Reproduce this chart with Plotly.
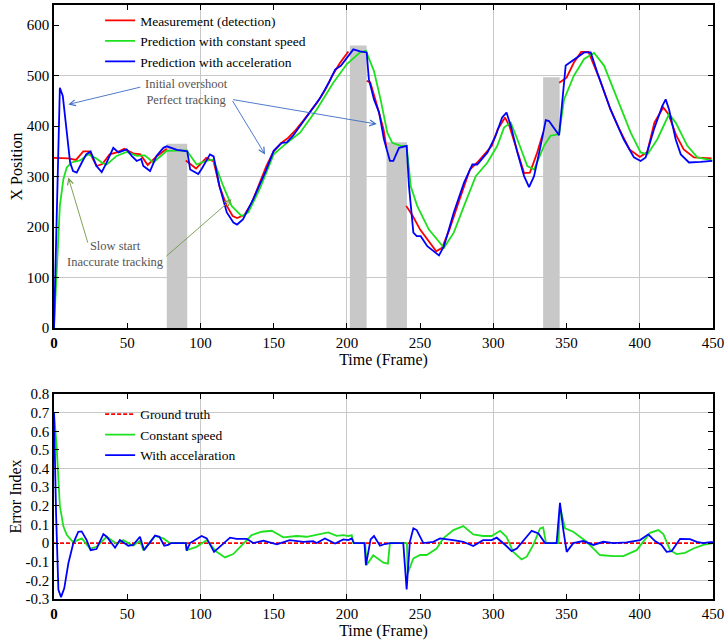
import plotly.graph_objects as go

# ---------------- data: top panel (X position) ----------------
meas_frames = [0, 5, 10, 15, 20, 24, 29, 33, 38, 43, 48, 54, 59, 64, 70, 77, None,
               90, 97, 104, 109, 113, 118, 122, 125, 130, 135, 140, 145, 150, 155, 160, 165, 170,
               175, 180, 185, 190, 195, 198, 201, None,
               213.5, 216, 220, 225, 227, None,
               240.5, 245, 250, 257, 261, 265, 270, 277, 284, 289, 293, 299, 303, 308, 311, 316,
               321, 325, 330, 334, None,
               345, 350, 355, 360, 365, 368, 373, 380, 386, 393, 400, 405, 410, 416, 419.5, 425,
               430, 437, 449]
meas_x = [337, 337, 336, 333, 350, 350, 321, 325, 344, 348, 355, 346, 344, 323, 340, 355, None,
          332, 316, 337, 330, 281, 242, 222, 218, 224, 248, 284, 321, 350, 366, 377, 392, 410,
          430, 448, 471, 500, 524, 535, 548, None,
          490, 486, 447, 394, 357, None,
          242, 222, 195, 169, 152, 159, 195, 255, 314, 328, 341, 361, 394, 417, 400, 354,
          307, 308, 348, 387, None,
          486, 496, 526, 547, 547, 526, 490, 433, 394, 354, 339, 348, 407, 437, 424, 381,
          354, 338, 336]

const_frames = [0, 1.8, 4, 6.4, 8.7, 12, 17.8, 23.4, 29, 33, 36, 42.8, 49.6, 56.5, 62, 67.8, 77,
                90.6, 97.4, 104, 108.8, 115.6, 121.3, 128, 132.7, 140.7, 150, 156.6, 168, 179.4,
                190.7, 200, 209, 213, 218.5, 223, 227.6, 231, 236.7, 240.8, 243.6, 248, 256,
                266.3, 273, 280, 288, 296, 302.7, 307.3, 311.9, 316.4, 323.2, 327.8, 334.6, 339,
                344.9, 348.3, 355, 362, 368.8, 375.6, 384.7, 393.8, 400.6, 405.2, 412, 420,
                424.5, 432.5, 439.3, 449.5]
const_x = [0, 123, 242, 295, 318, 328, 332, 344, 336, 327, 324, 341, 349, 341, 342, 328, 351,
           352, 324, 331, 334, 281, 242, 222, 229, 277, 344, 361, 387, 433,
           486, 523, 546, 549, 509, 453, 387, 367, 361, 361, 281, 242, 195,
           159, 189, 242, 301, 328, 361, 397, 407, 374, 321, 314, 361, 381,
           384, 453, 500, 533, 545, 520, 453, 387, 348, 344, 374, 424,
           407, 361, 338, 332]

acc_frames = [0, 4, 6, 8.7, 11, 13, 15.5, 19, 22, 25, 29, 32.6, 36, 40.5, 44, 49.6, 53, 56.5,
              59.5, 61, 65.6, 70, 74.7, 77, 84, 91, 93, 98.5, 101, 106.5, 109, 113, 118, 122.5,
              125, 129, 136, 145, 150, 155.5, 159, 163, 168, 175, 181.6, 188, 192, 196, 200,
              204.4, 209, 213.5, 215, 218.5, 222, 225.3, 229.4, 231.7, 235.6, 240.8, 242.4,
              245.4, 247.7, 250.4, 254.9, 262.9, 266.3, 273, 280, 285.7, 289, 296, 301.6, 306,
              309, 312, 316.4, 321, 324.4, 327.8, 332.3, 335.8, 338, 342.6, 344.9, 349.4, 354,
              362, 366.5, 371, 380, 389, 396, 400.6, 404, 409.7, 415.4, 417.7, 420, 424.5, 428,
              433.6, 441.6, 449.5]
acc_x = [0, 476, 460, 388, 328, 311, 308, 328, 344, 350, 321, 309, 328, 357, 348, 354, 341, 331,
         335, 321, 311, 341, 357, 360, 353, 350, 314, 305, 316, 344, 340, 281, 229, 209,
         205, 215, 255, 314, 351, 367, 368, 380, 400, 427, 455, 488, 512, 520, 536,
         552, 548, 546, 493, 453, 427, 374, 331, 331, 357, 361, 281,
         189, 182, 182, 162, 144, 162, 229, 288, 324, 324, 348, 381, 417,
         427, 400, 348, 301, 279, 301, 361, 412, 410, 390, 382, 520, 529,
         546, 546, 506, 433, 374, 338, 331, 338, 394, 440, 453, 433, 374, 344,
         328, 329, 331]

# occlusion periods (grey bars)
occl_start = [77, 202, 227, 334]
occl_end = [91, 213.5, 241, 345.3]
occl_height = [365, 560, 368, 497]

# ---------------- data: bottom panel (error index) ----------------
gt_frames = [0, 450]
gt_err = [0, 0]

const_err_frames = [0, 1.8, 4, 6.4, 8.7, 13, 19, 24.6, 29, 36, 42.8, 47.3, 54, 58.7, 61, 69, 74.7,
                    79, 90, 90.6, 97.4, 104.3, 111, 116.8, 122.4, 129.3, 135, 141.8, 148.7, 156.6,
                    165.7, 172.6, 179.4, 187.3, 193, 197.6, 201, 203.3, 204.4, 212.5, 213.5, 218,
                    225, 228, 229.4, 241, 241.5, 245.4, 250, 254.5, 261.3, 265.8, 272.7, 279.5,
                    286.3, 293, 298.9, 304.6, 309, 313.6, 319.3, 322.8, 327.3, 331.9, 334, 336,
                    344.5, 345.5, 349, 354.6, 363.7, 372.8, 381.9, 388.8, 397.9, 402.4, 407, 412.7,
                    416.1, 420.7, 425.2, 430.9, 436.6, 443.4, 450]
const_err = [0.70, 0.52, 0.20, 0.09, 0.045, 0.005, 0.025, -0.03, -0.02, 0.034, -0.005, 0.016,
             -0.014, 0.013, -0.038, 0.038, 0.025,
             0, 0, -0.038, -0.02, 0.016, -0.047, -0.077, -0.059, 0, 0.043, 0.061, 0.066, 0.031,
             0.038, 0.034, 0.043, 0.057, 0.039, 0.043, 0.038, 0.043, 0, 0, -0.118, -0.065,
             -0.105, -0.11, 0, 0, -0.163, -0.082, -0.064, -0.064, -0.029, 0.025, 0.07, 0.091,
             0.047, 0.038, 0.038, 0.066, 0.034, -0.047, -0.088, -0.073, -0.01, 0.079, 0.084, 0,
             0, 0.195, 0.079, 0.061, 0.007, -0.064, -0.07, -0.07, -0.038, 0.007, 0.055, 0.07,
             0.048, -0.038, -0.059, -0.052, -0.029, -0.01, 0]

acc_err_frames = [0, 1.4, 3, 4.8, 7, 9.8, 13.2, 16.6, 18.9, 22.3, 25, 29, 33.7, 36, 41.7, 45,
                  50.7, 54, 58.7, 61.5, 69, 72, 75.3, 78, 80, 90, 90.6, 92.9, 100.8, 104.3, 109.3,
                  114.5, 120.2, 124.7, 131.6, 136.1, 143, 152.1, 161, 170.2, 177, 179.4, 185,
                  191.9, 197.6, 201, 203.3, 204.9, 212, 213, 216.2, 218.5, 222.6, 226, 229.4,
                  238.5, 240.8, 243, 245.4, 247.7, 252.2, 259, 263.6, 272.7, 279.5, 286.3, 293,
                  298.9, 302.3, 308, 312.5, 316, 322.8, 326.2, 330.8, 335.3, 343.2, 345.5, 347.8,
                  350.1, 354.6, 361.4, 368.3, 375.1, 381.9, 391, 400.2, 405.8, 410.4, 414.9,
                  418.3, 421.8, 427.5, 434.3, 438.9, 443.4, 448, 450]
acc_err = [0.70, 0.16, -0.25, -0.29, -0.243, -0.109, 0, 0.061, 0.063, 0.016, -0.038, -0.032,
           0.048, 0.034, -0.025, 0.016, -0.014, -0.01, 0.034, -0.038, 0.04, 0.034, -0.014, -0.01,
           0, 0, -0.04, 0, 0.038, 0.025, -0.047, -0.01, 0.029, 0.023, 0.023, 0, 0.013, -0.007,
           0.016, 0.007, 0.01, 0, 0.025, -0.002, 0.02, 0.016, 0.025, 0, 0, -0.118, 0.02, 0.038,
           -0.014, -0.005, 0, 0, -0.249, 0.007, 0.079, 0.07, 0, 0.007, 0.025, 0.016, 0.007,
           -0.016, 0.016, 0.016, 0.029, -0.009, -0.043, -0.029, 0.034, 0.066, 0.052, 0, 0,
           0.216, 0.07, -0.047, 0, 0.011, -0.01, 0.007, 0, 0.004, 0.016, 0.047, 0.011, -0.01,
           -0.047, -0.043, 0.023, 0.021, 0.007, 0, 0.005, 0.005]

# ticks
x_ticks = [0, 50, 100, 150, 200, 250, 300, 350, 400, 450]
x_ticklabels = ["<b>0</b>", "50", "100", "150", "200", "250", "300", "350", "400", "450"]
x_grid = [100, 200, 300, 400]
y1_ticks = [0, 100, 200, 300, 400, 500, 600]
y1_grid = [100, 300, 500]
y2_ticks = [-0.3, -0.2, -0.1, 0, 0.1, 0.2, 0.3, 0.4, 0.5, 0.6, 0.7, 0.8]
y2_ticklabels = ["-0.3", "-0.2", "-0.1", "0", "0.1", "0.2", "0.3", "0.4", "0.5", "0.6", "0.7", "0.8"]
y2_grid = [-0.2, 0.1, 0.4, 0.7]

RED = "#ff0000"
GREEN = "#1ee01e"
BLUE = "#0000ff"
FONT = "Liberation Serif"
GRID = "#c8c8c8"

fig = go.Figure()

fig.add_trace(go.Bar(
    x=[(s + e) / 2 for s, e in zip(occl_start, occl_end)],
    y=occl_height,
    width=[e - s for s, e in zip(occl_start, occl_end)],
    marker=dict(color="#c8c8c8", line=dict(width=0)),
    showlegend=False, hoverinfo="skip", xaxis="x", yaxis="y"))

fig.add_trace(go.Scatter(x=meas_frames, y=meas_x, mode="lines", name="Measurement (detection)",
                         line=dict(color=RED, width=1.8), connectgaps=False,
                         xaxis="x", yaxis="y", legend="legend"))
fig.add_trace(go.Scatter(x=const_frames, y=const_x, mode="lines", name="Prediction with constant speed",
                         line=dict(color=GREEN, width=1.8), xaxis="x", yaxis="y", legend="legend"))
fig.add_trace(go.Scatter(x=acc_frames, y=acc_x, mode="lines", name="Prediction with acceleration",
                         line=dict(color=BLUE, width=1.8), xaxis="x", yaxis="y", legend="legend"))

fig.add_trace(go.Scatter(x=gt_frames, y=gt_err, mode="lines", name="Ground truth",
                         line=dict(color=RED, width=1.6, dash="4px,2px"),
                         xaxis="x2", yaxis="y2", legend="legend2"))
fig.add_trace(go.Scatter(x=const_err_frames, y=const_err, mode="lines", name="Constant speed",
                         line=dict(color=GREEN, width=1.8), xaxis="x2", yaxis="y2", legend="legend2"))
fig.add_trace(go.Scatter(x=acc_err_frames, y=acc_err, mode="lines", name="With accelaration",
                         line=dict(color=BLUE, width=1.8), xaxis="x2", yaxis="y2", legend="legend2"))

axis_common = dict(showline=True, linecolor="black", linewidth=1.5, mirror="ticks",
                   ticks="inside", ticklen=5, tickcolor="black", showgrid=False, zeroline=False,
                   automargin=False,
                   tickfont=dict(family=FONT, size=15, color="black"))

fig.update_layout(
    width=728, height=644,
    margin=dict(l=54, r=15, t=5, b=45),
    paper_bgcolor="white", plot_bgcolor="white",
    font=dict(family=FONT, size=15, color="black"),
    barmode="overlay",
    xaxis=dict(domain=[0, 1], range=[0, 450], anchor="y", tickmode="array", tickvals=x_ticks,
               ticktext=x_ticklabels,
               minor=dict(tickmode="array", tickvals=x_grid, showgrid=True, gridcolor=GRID,
                          gridwidth=1, ticks=""),
               title=dict(text="Time (Frame)", font=dict(family=FONT, size=16), standoff=2),
               **axis_common),
    yaxis=dict(domain=[0.4562, 1.0], range=[0, 640], anchor="x", tickmode="array",
               tickvals=y1_ticks,
               minor=dict(tickmode="array", tickvals=y1_grid, showgrid=True, gridcolor=GRID,
                          gridwidth=1, ticks=""),
               title=dict(text="X Position", font=dict(family=FONT, size=16), standoff=0),
               **axis_common),
    xaxis2=dict(domain=[0, 1], range=[0, 450], anchor="y2", tickmode="array", tickvals=x_ticks,
                ticktext=x_ticklabels,
                minor=dict(tickmode="array", tickvals=x_grid, showgrid=True, gridcolor=GRID,
                           gridwidth=1, ticks=""),
                title=dict(text="Time (Frame)", font=dict(family=FONT, size=16), standoff=2),
                **axis_common),
    yaxis2=dict(domain=[0, 0.3451], range=[-0.3, 0.8], anchor="x2", tickmode="array",
                tickvals=y2_ticks, ticktext=y2_ticklabels,
                minor=dict(tickmode="array", tickvals=y2_grid, showgrid=True, gridcolor=GRID,
                           gridwidth=1, ticks=""),
                title=dict(text="Error Index", font=dict(family=FONT, size=16), standoff=0),
                **axis_common),
    legend=dict(x=0.07, y=1.0, xanchor="left", yanchor="top", bgcolor="rgba(0,0,0,0)",
                font=dict(family=FONT, size=13.5), tracegroupgap=0),
    legend2=dict(x=0.07, y=0.337, xanchor="left", yanchor="top", bgcolor="rgba(0,0,0,0)",
                 font=dict(family=FONT, size=13.5), tracegroupgap=0),
)

TXT = "#555555"
ARROW_BLUE = "#3b6cc4"
ARROW_GREEN = "#6f9a45"

labels = [("Initial overshoot<br>Perfect tracking", 90.8, 468),
          ("Slow start<br>Inaccurate tracking", 42, 147)]
for txt, fx, vy in labels:
    fig.add_annotation(x=fx, y=vy, xref="x", yref="y", text=txt, showarrow=False,
                       align="center", font=dict(family=FONT, size=12.5, color=TXT))

arrows = [((60, 478), (9.8, 443), ARROW_BLUE),
          ((121.3, 453), (144.1, 344), ARROW_BLUE),
          ((121.3, 453), (220.4, 404), ARROW_BLUE),
          ((23.4, 166), (9.8, 298), ARROW_GREEN),
          ((75.8, 140), (121.3, 255), ARROW_GREEN)]
for (tx, ty), (hx, hy), col in arrows:
    fig.add_annotation(x=hx, y=hy, ax=tx, ay=ty, xref="x", yref="y", axref="x", ayref="y",
                       text="", showarrow=True, arrowhead=5, arrowsize=1.3, arrowwidth=0.9,
                       arrowcolor=col, standoff=0, startstandoff=0)

fig.write_html("out.html", config={"displayModeBar": False},
               post_script="document.body.style.margin='0px';")
